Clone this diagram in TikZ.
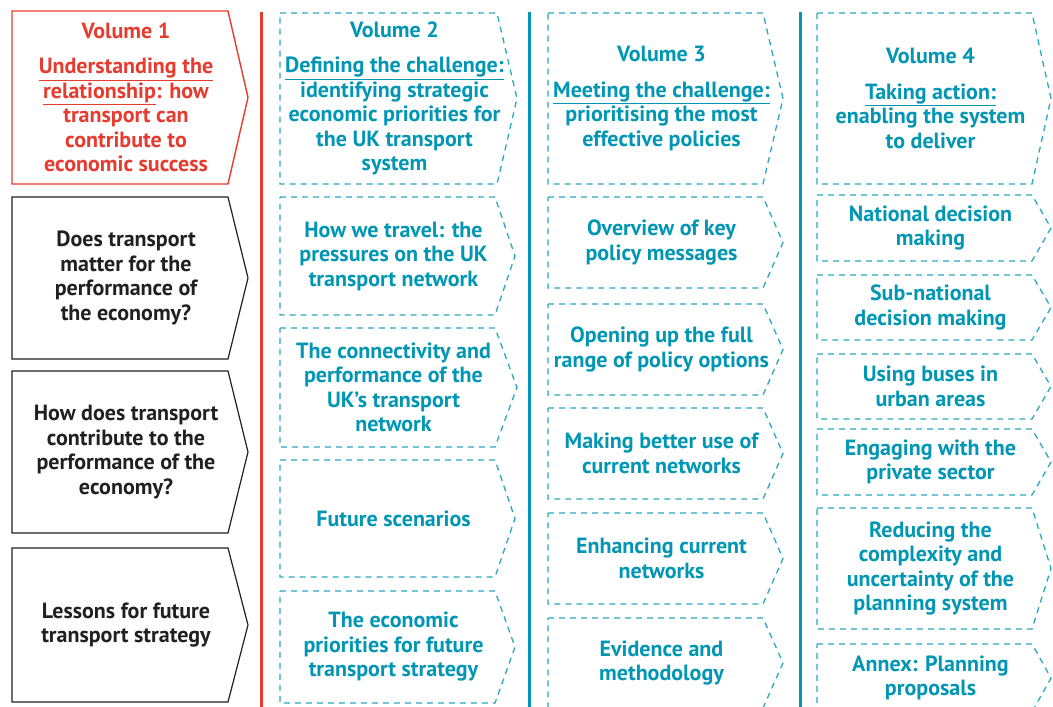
\documentclass[tikz,border=0pt]{standalone}
\usepackage{fontspec}
\setmainfont{PT Sans}
\usepackage{tikz}

\definecolor{volred}{HTML}{E63B2E}
\definecolor{volteal}{HTML}{0096B4}
\definecolor{dashteal}{HTML}{2AA8C2}
\definecolor{volink}{HTML}{231F20}

\tikzset{
  red line/.style={draw=volred, line width=1.4pt},
  dark line/.style={draw=volink, line width=1.2pt},
  teal line/.style={draw=dashteal, line width=1.3pt, dash pattern=on 6pt off 5pt},
  red text/.style={text=volred},
  dark text/.style={text=volink},
  teal text/.style={text=volteal},
  boxtext/.style={align=center, inner sep=0pt, font=\bfseries\fontsize{22}{24.5}\selectfont},
  divider/.style={line width=3pt}
}

% #1 colour family, #2 name, #3 left, #4 right, #5 tip, #6 top, #7 bottom, #8 text
\newcommand\volbox[8]{%
  \draw[#1 line] (#3,#6) -- (#4,#6) -- (#5,{(#6+#7)/2}) -- (#4,#7) -- (#3,#7) -- cycle;
  \node[boxtext, #1 text] (#2) at ({(#3+#4)/2+6},{(#6+#7)/2}) {#8};
}

\begin{document}
\begin{tikzpicture}[x=1pt, y=-1pt]
  \useasboundingbox (0,0) rectangle (1053,707);
  \clip (0,0) rectangle (1053,707);

  % column dividers
  \draw[divider, volred] (261,12) -- (261,710);
  \draw[divider, volteal] (529,12) -- (529,710);
  \draw[divider, volteal] (800,12) -- (800,710);

  % volume 1
  \volbox{red}{v1}{12}{228}{248}{11}{184}{Volume 1\\[11pt]
    \underline{Understanding the}\\ \underline{relationship}: how\\ transport can\\ contribute to\\ economic success}
  \volbox{dark}{v1a}{12}{228}{248}{197}{359}{Does transport\\ matter for the\\ performance of\\ the economy?}
  \volbox{dark}{v1b}{12}{228}{248}{371}{533}{How does transport\\ contribute to the\\ performance of the\\ economy?}
  \volbox{dark}{v1c}{12}{228}{248}{548}{702}{Lessons for future\\ transport strategy}

  % volume 2
  \volbox{teal}{v2}{280}{497}{517}{13}{184}{Volume 2\\[11pt]
    \underline{Defining the challenge:}\\ identifying strategic\\ economic priorities for\\ the UK transport\\ system}
  \volbox{teal}{v2a}{280}{495}{515}{197}{315}{How we travel: the\\ pressures on the UK\\ transport network}
  \volbox{teal}{v2b}{280}{495}{517}{328}{447}{The connectivity and\\ performance of the\\ UK’s transport\\ network}
  \volbox{teal}{v2c}{280}{495}{515}{460}{577}{Future scenarios}
  \volbox{teal}{v2d}{280}{495}{515}{591}{703}{The economic\\ priorities for future\\ transport strategy}

  % volume 3
  \volbox{teal}{v3}{548}{763}{783}{13}{184}{Volume 3\\[11pt]
    \underline{Meeting the challenge:}\\ prioritising the most\\ effective policies}
  \volbox{teal}{v3a}{548}{763}{783}{197}{288}{Overview of key\\ policy messages}
  \volbox{teal}{v3b}{548}{763}{783}{304}{395}{Opening up the full\\ range of policy options}
  \volbox{teal}{v3c}{548}{763}{783}{408}{499}{Making better use of\\ current networks}
  \volbox{teal}{v3d}{548}{763}{783}{513}{604}{Enhancing current\\ networks}
  \volbox{teal}{v3e}{548}{763}{783}{618}{708}{Evidence and\\ methodology}

  % volume 4
  \volbox{teal}{v4}{817}{1032}{1051}{13}{184}{Volume 4\\[11pt]
    \underline{Taking action:}\\ enabling the system\\ to deliver}
  \volbox{teal}{v4a}{817}{1032}{1051}{195}{261}{National decision\\ making}
  \volbox{teal}{v4b}{817}{1032}{1051}{275}{340}{Sub-national\\ decision making}
  \volbox{teal}{v4c}{817}{1032}{1051}{354}{419}{Using buses in\\ urban areas}
  \volbox{teal}{v4d}{817}{1032}{1051}{429}{495}{Engaging with the\\ private sector}
  \volbox{teal}{v4e}{817}{1032}{1051}{508}{629}{Reducing the\\ complexity and\\ uncertainty of the\\ planning system}
  \volbox{teal}{v4f}{817}{1032}{1051}{644}{712}{Annex: Planning\\ proposals}
\end{tikzpicture}
\end{document}
